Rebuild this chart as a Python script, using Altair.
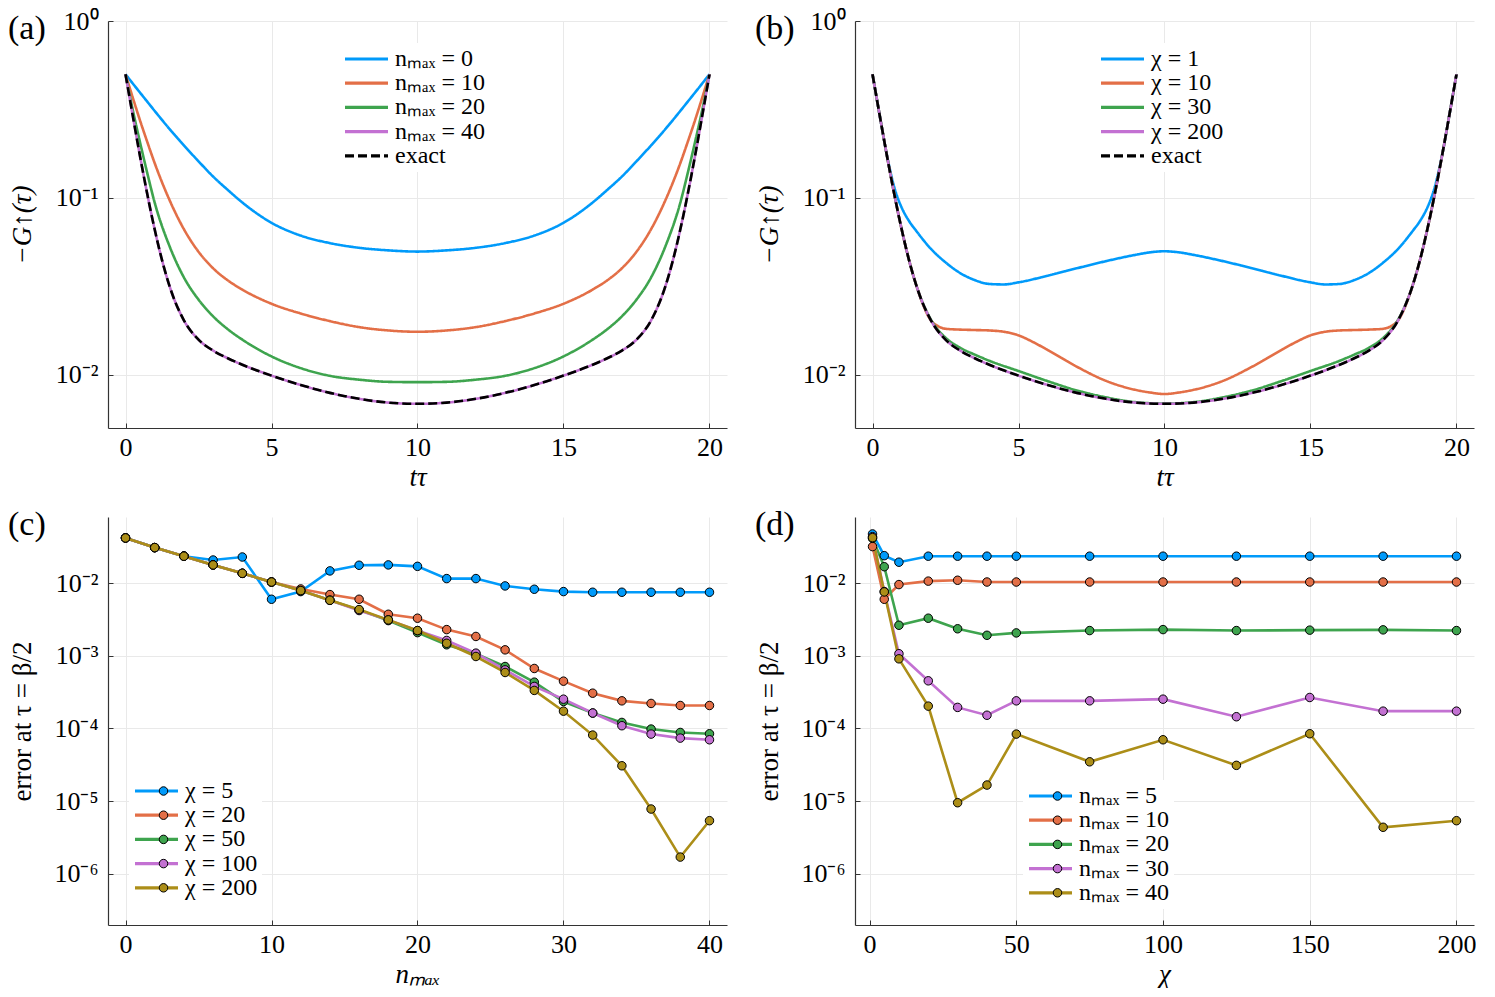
import altair as alt
import pandas as pd

FONT = "Liberation Serif"
BLUE, ORANGE, GREEN, PURPLE, OLIVE = "#009AFA", "#E36F47", "#3EA44E", "#C371D2", "#AC8E18"

# ---------------- panel (a) ----------------
TAU_A = [0, 0.25, 0.5, 0.75, 1, 1.5, 2, 2.5, 3, 3.5, 4, 5, 6, 7, 8, 9, 10,
         11, 12, 13, 14, 15, 16, 16.5, 17, 17.5, 18, 18.5, 19, 19.25, 19.5, 19.75, 20]
A_NMAX0 = [0.500, 0.443, 0.393, 0.349, 0.310, 0.246, 0.198, 0.161, 0.132, 0.111, 0.0942, 0.0723, 0.0612, 0.0555, 0.0522, 0.0505, 0.0497,
           0.0505, 0.0522, 0.0555, 0.0612, 0.0723, 0.0942, 0.111, 0.132, 0.161, 0.198, 0.246, 0.310, 0.349, 0.393, 0.443, 0.500]
A_NMAX10 = [0.500, 0.368, 0.273, 0.206, 0.157, 0.0978, 0.0665, 0.0496, 0.0400, 0.0342, 0.0303, 0.0252, 0.0222, 0.0201, 0.0186, 0.0178, 0.0175,
            0.0178, 0.0186, 0.0201, 0.0222, 0.0252, 0.0303, 0.0342, 0.0400, 0.0496, 0.0665, 0.0978, 0.157, 0.206, 0.273, 0.368, 0.500]
A_NMAX20 = [0.500, 0.313, 0.205, 0.137, 0.0938, 0.0537, 0.0355, 0.0266, 0.0214, 0.0181, 0.0158, 0.0127, 0.0109, 0.00986, 0.00938, 0.00912, 0.00908,
            0.00912, 0.00938, 0.00986, 0.0109, 0.0127, 0.0158, 0.0181, 0.0214, 0.0266, 0.0355, 0.0537, 0.0938, 0.137, 0.205, 0.313, 0.500]
TAU_E = [0, 0.25, 0.5, 0.75, 1, 1.25, 1.5, 2, 2.5, 3, 3.5, 4, 5, 6, 7, 8, 9, 10,
         11, 12, 13, 14, 15, 16, 16.5, 17, 17.5, 18, 18.5, 18.75, 19, 19.25, 19.5, 19.75, 20]
A_NMAX40 = [0.500, 0.290, 0.171, 0.104, 0.0662, 0.0445, 0.0320, 0.0203, 0.0158, 0.0137, 0.0124, 0.0114, 0.00989, 0.00875, 0.00790, 0.00731, 0.00696, 0.00685,
            0.00696, 0.00731, 0.00790, 0.00875, 0.00989, 0.0114, 0.0124, 0.0137, 0.0158, 0.0203, 0.0320, 0.0445, 0.0662, 0.104, 0.171, 0.290, 0.500]
EXACT = [0.500, 0.290, 0.171, 0.104, 0.0662, 0.0445, 0.0320, 0.0203, 0.0158, 0.0137, 0.0124, 0.0114, 0.00989, 0.00875, 0.00790, 0.00731, 0.00696, 0.00685,
         0.00696, 0.00731, 0.00790, 0.00875, 0.00989, 0.0114, 0.0124, 0.0137, 0.0158, 0.0203, 0.0320, 0.0445, 0.0662, 0.104, 0.171, 0.290, 0.500]

# ---------------- panel (b) ----------------
TAU_B1 = [0, 0.25, 0.5, 0.75, 1, 1.25, 1.5, 2, 2.5, 3, 3.5, 4, 4.5, 5, 6, 7, 8, 9, 9.5, 10,
          10.5, 11, 12, 13, 14, 15, 15.5, 16, 16.5, 17, 17.5, 18, 18.5, 18.75, 19, 19.25, 19.5, 19.75, 20]
B_CHI1 = [0.500, 0.290, 0.172, 0.114, 0.0880, 0.0740, 0.0650, 0.0515, 0.0432, 0.0376, 0.0343, 0.0326, 0.0324, 0.0333, 0.0363, 0.0400, 0.0439, 0.0476, 0.0492, 0.0499,
          0.0492, 0.0476, 0.0439, 0.0400, 0.0363, 0.0333, 0.0324, 0.0326, 0.0343, 0.0376, 0.0432, 0.0515, 0.0650, 0.0740, 0.0880, 0.114, 0.172, 0.290, 0.500]
TAU_B10 = [0, 0.25, 0.5, 0.75, 1, 1.25, 1.5, 2, 2.25, 2.5, 3, 3.5, 4, 4.5, 5, 5.5, 6, 7, 8, 9, 9.5, 10,
           10.5, 11, 12, 13, 14, 14.5, 15, 15.5, 16, 16.5, 17, 17.5, 17.75, 18, 18.5, 18.75, 19, 19.25, 19.5, 19.75, 20]
B_CHI10 = [0.500, 0.290, 0.171, 0.104, 0.0662, 0.0445, 0.0320, 0.0203, 0.0188, 0.0182, 0.0180, 0.0179, 0.0178, 0.0175, 0.0167, 0.0153, 0.0138, 0.0111, 0.00923, 0.00822, 0.00794, 0.00778,
           0.00794, 0.00822, 0.00923, 0.0111, 0.0138, 0.0153, 0.0167, 0.0175, 0.0178, 0.0179, 0.0180, 0.0182, 0.0188, 0.0203, 0.0320, 0.0445, 0.0662, 0.104, 0.171, 0.290, 0.500]
B_CHI30 = [0.500, 0.290, 0.171, 0.104, 0.0662, 0.0445, 0.0320, 0.0205, 0.0162, 0.0142, 0.0130, 0.0120, 0.0105, 0.00920, 0.00815, 0.00745, 0.00700, 0.00687,
           0.00700, 0.00745, 0.00815, 0.00920, 0.0105, 0.0120, 0.0130, 0.0142, 0.0162, 0.0205, 0.0320, 0.0445, 0.0662, 0.104, 0.171, 0.290, 0.500]
B_CHI200 = [0.500, 0.290, 0.171, 0.104, 0.0662, 0.0445, 0.0320, 0.0203, 0.0158, 0.0137, 0.0124, 0.0114, 0.00989, 0.00875, 0.00790, 0.00731, 0.00696, 0.00685,
            0.00696, 0.00731, 0.00790, 0.00875, 0.00989, 0.0114, 0.0124, 0.0137, 0.0158, 0.0203, 0.0320, 0.0445, 0.0662, 0.104, 0.171, 0.290, 0.500]

# ---------------- panel (c) ----------------
NMAX = [0, 2, 4, 6, 8, 10, 12, 14, 16, 18, 20, 22, 24, 26, 28, 30, 32, 34, 36, 38, 40]
C_CHI5 = [0.0421, 0.0310, 0.0236, 0.0209, 0.0230, 0.00602, 0.00768, 0.0148, 0.0177, 0.0179, 0.0171, 0.0116, 0.0116,
          0.00919, 0.00827, 0.00768, 0.00752, 0.00752, 0.00752, 0.00752, 0.00752]
C_CHI20 = [0.0421, 0.0310, 0.0236, 0.0179, 0.0137, 0.0104, 0.00835, 0.00698, 0.00602, 0.00374, 0.00330, 0.00230, 0.00185,
           0.00121, 0.000670, 0.000448, 0.000306, 0.000240, 0.000221, 0.000207, 0.000207]
C_CHI50 = [0.0421, 0.0310, 0.0236, 0.0179, 0.0137, 0.0104, 0.00792, 0.00583, 0.00430, 0.00306, 0.00209, 0.00142, 0.00107,
           0.000713, 0.000434, 0.000235, 0.000163, 0.000121, 0.0000980, 0.0000880, 0.0000845]
C_CHI100 = [0.0421, 0.0310, 0.0236, 0.0179, 0.0137, 0.0104, 0.00792, 0.00583, 0.00421, 0.00313, 0.00223, 0.00163, 0.00109,
            0.000641, 0.000379, 0.000253, 0.000163, 0.000109, 0.0000836, 0.0000736, 0.0000698]
C_CHI200 = [0.0421, 0.0310, 0.0236, 0.0179, 0.0137, 0.0104, 0.00792, 0.00583, 0.00434, 0.00313, 0.00223, 0.00149, 0.000980,
            0.000590, 0.000334, 0.000173, 0.0000810, 0.0000306, 0.00000776, 0.00000169, 0.00000536]

# ---------------- panel (d) ----------------
CHI = [1, 5, 10, 20, 30, 40, 50, 75, 100, 125, 150, 175, 200]
D_N5 = [0.0478, 0.0240, 0.0195, 0.0236, 0.0236, 0.0236, 0.0236, 0.0236, 0.0236, 0.0236, 0.0236, 0.0236, 0.0236]
D_N10 = [0.0320, 0.00602, 0.00959, 0.0107, 0.0110, 0.0104, 0.0104, 0.0104, 0.0104, 0.0104, 0.0104, 0.0104, 0.0104]
D_N20 = [0.0416, 0.0169, 0.00264, 0.00330, 0.00236, 0.00192, 0.00207, 0.00223, 0.00230, 0.00223, 0.00226, 0.00228, 0.00223]
D_N30 = [0.0438, 0.00768, 0.00107, 0.000453, 0.000195, 0.000152, 0.000240, 0.000240, 0.000253, 0.000145, 0.000267, 0.000173, 0.000173]
D_N40 = [0.0425, 0.00760, 0.000910, 0.000203, 0.00000948, 0.0000166, 0.0000836, 0.0000347, 0.0000698, 0.0000310, 0.0000845,
         0.00000435, 0.00000536]

A_NAMES = ["nₘₐₓ = 0", "nₘₐₓ = 10", "nₘₐₓ = 20", "nₘₐₓ = 40", "exact"]
B_NAMES = ["χ = 1", "χ = 10", "χ = 30", "χ = 200", "exact"]
C_NAMES = ["χ = 5", "χ = 20", "χ = 50", "χ = 100", "χ = 200"]
D_NAMES = ["nₘₐₓ = 5", "nₘₐₓ = 10", "nₘₐₓ = 20", "nₘₐₓ = 30", "nₘₐₓ = 40"]
COLORS_AB = [BLUE, ORANGE, GREEN, PURPLE, "black"]
COLORS_CD = [BLUE, ORANGE, GREEN, PURPLE, OLIVE]
DASHES = [[1, 0], [1, 0], [1, 0], [1, 0], [9, 4]]


def long_df(series):
    rows = []
    for name, xs, ys in series:
        for x, y in zip(xs, ys):
            rows.append({"x": x, "y": y, "series": name, "series_pt": name})
    return pd.DataFrame(rows)


df_a = long_df([(A_NAMES[0], TAU_A, A_NMAX0), (A_NAMES[1], TAU_A, A_NMAX10), (A_NAMES[2], TAU_A, A_NMAX20),
                (A_NAMES[3], TAU_E, A_NMAX40), (A_NAMES[4], TAU_E, EXACT)])
df_b = long_df([(B_NAMES[0], TAU_B1, B_CHI1), (B_NAMES[1], TAU_B10, B_CHI10), (B_NAMES[2], TAU_E, B_CHI30),
                (B_NAMES[3], TAU_E, B_CHI200), (B_NAMES[4], TAU_E, EXACT)])
df_c = long_df([(C_NAMES[0], NMAX, C_CHI5), (C_NAMES[1], NMAX, C_CHI20), (C_NAMES[2], NMAX, C_CHI50),
                (C_NAMES[3], NMAX, C_CHI100), (C_NAMES[4], NMAX, C_CHI200)])
df_d = long_df([(D_NAMES[0], CHI, D_N5), (D_NAMES[1], CHI, D_N10), (D_NAMES[2], CHI, D_N20),
                (D_NAMES[3], CHI, D_N30), (D_NAMES[4], CHI, D_N40)])

LABEL_EXPR = ("'10' + replace(replace(replace(replace(replace(replace(replace(replace("
              "'' + round(log(datum.value) / LN10), '-', '⁻'), '0', '⁰'), '1', '¹'), '2', '²'),"
              " '3', '³'), '4', '⁴'), '5', '⁵'), '6', '⁶')")

AX = dict(labelFont=FONT, labelFontSize=26, labelColor="black", titleFont=FONT, titleFontSize=27,
          titleFontWeight="normal", titleColor="black", domainColor="#333333", domainWidth=1.2,
          tickColor="#333333", tickSize={"expr": "-5"}, gridColor="#e9e9e9", gridWidth=1)


def panel(df, names, colors, xdom, xticks, ydom, yticks, xtitle, ytitle, letter, lx, ly, height,
          points=False, dashes=None):
    xenc = alt.X("x:Q", scale=alt.Scale(domain=xdom, nice=False, zero=False),
                 axis=alt.Axis(values=xticks, title=xtitle, format="d", labelPadding=11.5, titlePadding=4,
                               titleFontStyle="italic", labelFlush=False, **AX))
    yenc = alt.Y("y:Q", scale=alt.Scale(type="log", domain=ydom, nice=False),
                 axis=alt.Axis(values=yticks, labelExpr=LABEL_EXPR, title=ytitle, labelPadding=15,
                               minExtent=62, maxExtent=62, titlePadding=10, labelFlush=False,
                               titleFontStyle="italic" if not points else "normal", **AX))
    leg = dict(orient="none", legendX=lx, legendY=ly, title=None, symbolType="stroke", symbolSize=1849,
               symbolStrokeWidth=3.2, clipHeight=24, rowPadding=0.2, labelFont=FONT, labelFontSize=24,
               labelOffset=5, labelColor="black", fillColor="white", padding=4, labelLimit=400)
    enc = dict(x=xenc, y=yenc,
               color=alt.Color("series:N", scale=alt.Scale(domain=names, range=colors),
                               legend=alt.Legend(**leg)))
    if dashes is not None:
        enc["strokeDash"] = alt.StrokeDash("series:N", scale=alt.Scale(domain=names, range=dashes),
                                           legend=alt.Legend(**leg))
    base = alt.Chart(df)
    lines = base.mark_line(strokeWidth=2.6, interpolate="linear" if points else "monotone",
                           clip=True).encode(**enc)
    layers = [lines]
    if points:
        pleg = dict(orient="none", legendX=lx + 18.5, legendY=ly, title=None, symbolType="circle",
                    symbolSize=72, symbolStrokeColor="black", symbolStrokeWidth=1, clipHeight=24,
                    rowPadding=0.2, labelFont=FONT, labelFontSize=24, labelOffset=5, labelExpr="''",
                    padding=4)
        pts = base.mark_circle(size=72, opacity=1, stroke="black", strokeWidth=1, clip=True).encode(
            x="x:Q", y="y:Q",
            fill=alt.Fill("series_pt:N", scale=alt.Scale(range=colors), sort=names,
                          legend=alt.Legend(**pleg)))
        layers.append(pts)
    tag = alt.Chart(pd.DataFrame({"tag": [letter]})).mark_text(
        align="left", baseline="alphabetic", font=FONT, fontSize=34, color="black"
    ).encode(text="tag:N", x=alt.value(-100), y=alt.value(18))
    layers.append(tag)
    return alt.layer(*layers).properties(width=619, height=height)


ch_a = panel(df_a, A_NAMES, COLORS_AB, [-0.6, 20.6], [0, 5, 10, 15, 20], [0.005, 1], [1, 0.1, 0.01],
             "tτ", "−G↑(τ)", "(a)", 231, 22, 407, dashes=DASHES)
ch_b = panel(df_b, B_NAMES, COLORS_AB, [-0.6, 20.6], [0, 5, 10, 15, 20], [0.005, 1], [1, 0.1, 0.01],
             "tτ", "−G↑(τ)", "(b)", 240, 22, 407, dashes=DASHES)
ch_c = panel(df_c, C_NAMES, COLORS_CD, [-1.2, 41.2], [0, 10, 20, 30, 40], [1.96e-7, 0.0818],
             [1e-2, 1e-3, 1e-4, 1e-5, 1e-6], "nₘₐₓ", "error at τ = β/2", "(c)", 21, 258, 408, points=True)
ch_d = panel(df_d, D_NAMES, COLORS_CD, [-4.97, 205.97], [0, 50, 100, 150, 200], [1.96e-7, 0.0818],
             [1e-2, 1e-3, 1e-4, 1e-5, 1e-6], "χ", "error at τ = β/2", "(d)", 168, 263, 408, points=True)

RES = dict(x="independent", y="independent", color="independent", fill="independent",
           strokeDash="independent")
LRES = dict(color="independent", fill="independent", strokeDash="independent")
row1 = alt.hconcat(ch_a, ch_b, spacing=28).resolve_scale(**RES).resolve_legend(**LRES)
row2 = alt.hconcat(ch_c, ch_d, spacing=28).resolve_scale(**RES).resolve_legend(**LRES)
chart = alt.vconcat(row1, row2, spacing=17).resolve_scale(**RES).resolve_legend(**LRES).properties(
    padding={"left": 0, "top": 0, "right": 0, "bottom": 0}, background="white"
).configure(font=FONT).configure_view(stroke=None)

chart.save("out.html", embed_options={"renderer": "svg", "actions": False})
